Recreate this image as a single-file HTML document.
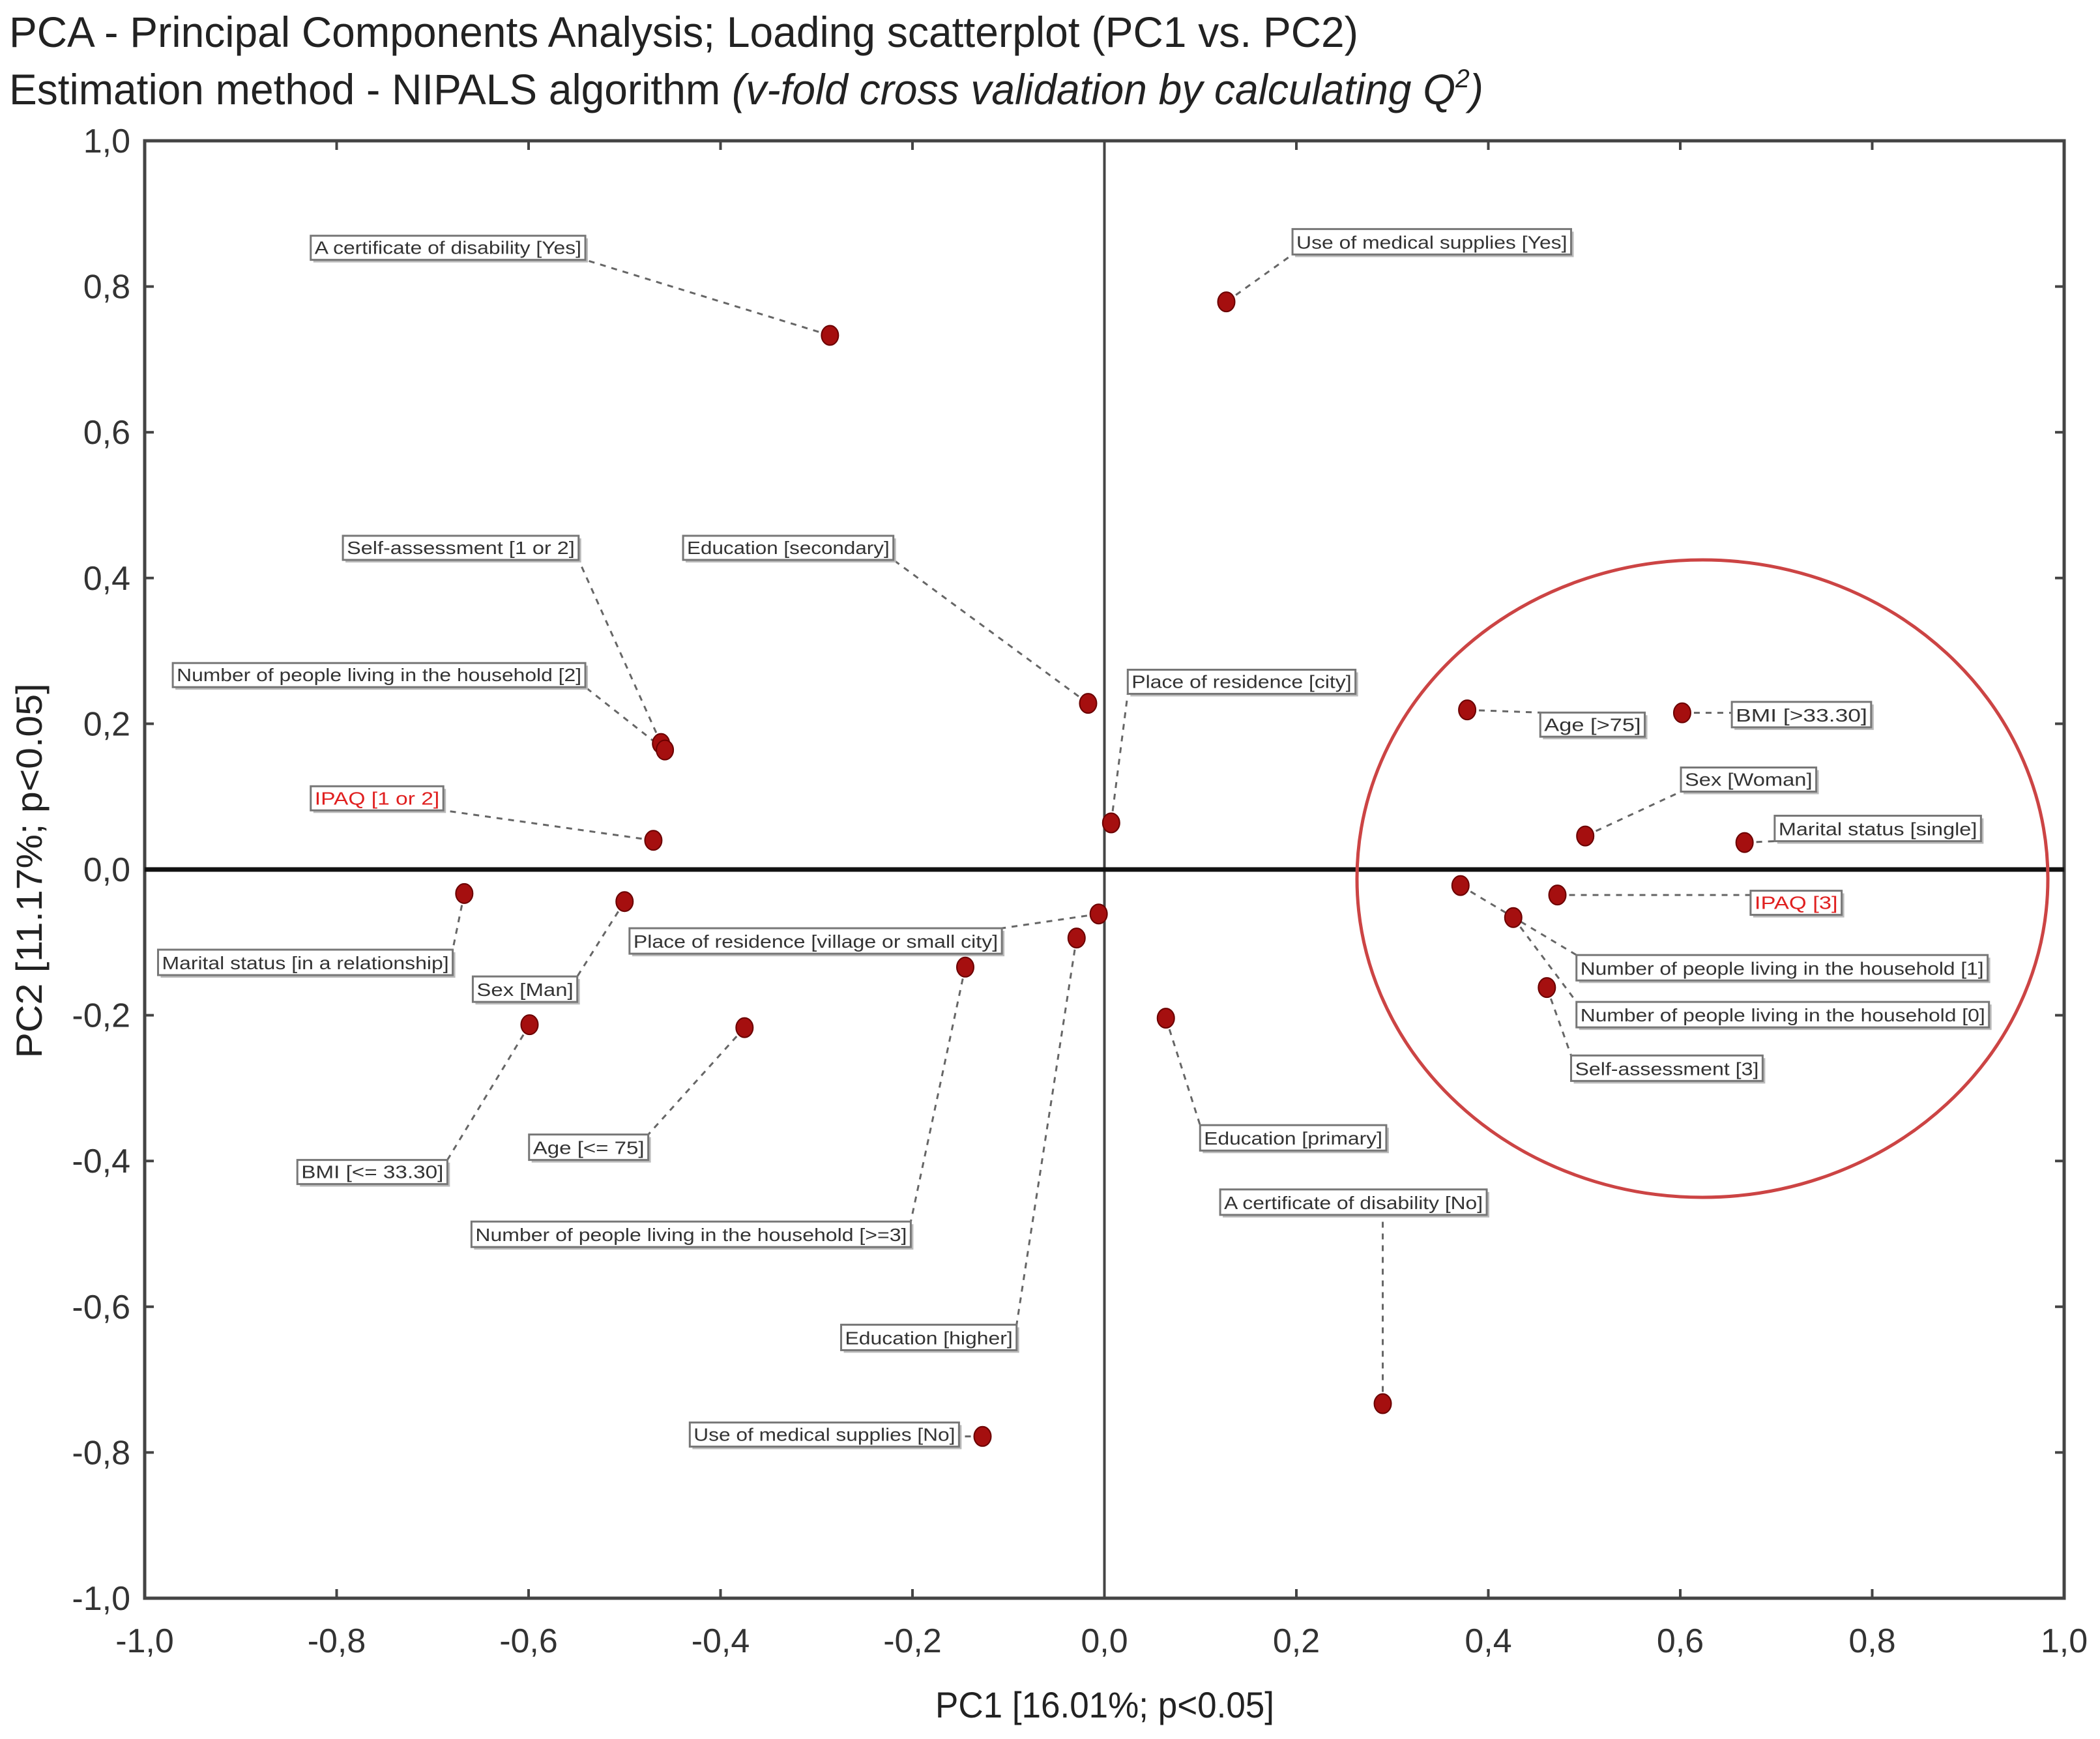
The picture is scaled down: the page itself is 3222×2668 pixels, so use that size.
<!DOCTYPE html>
<html><head><meta charset="utf-8">
<style>
html,body{margin:0;padding:0;background:#fff;}
svg{display:block;}
text{font-family:"Liberation Sans",sans-serif;}
</style></head>
<body>
<svg id="chart" width="3222" height="2668" viewBox="0 0 3222 2668" xmlns="http://www.w3.org/2000/svg">
  <rect x="0" y="0" width="3222" height="2668" fill="#fff"/>
  <text x="14" y="72" font-size="66" fill="#222" textLength="2070" lengthAdjust="spacingAndGlyphs">PCA - Principal Components Analysis; Loading scatterplot (PC1 vs. PC2)</text>
  <text x="14" y="160" font-size="66" fill="#222" textLength="2262" lengthAdjust="spacingAndGlyphs">Estimation method - NIPALS algorithm <tspan font-style="italic">(v-fold cross validation by calculating Q</tspan><tspan font-style="italic" font-size="40" dy="-26">2</tspan><tspan font-style="italic" dy="26">)</tspan></text>
  <g id="plot"></g>
  <text x="1695" y="2635" font-size="56" fill="#222" text-anchor="middle" textLength="520" lengthAdjust="spacingAndGlyphs">PC1 [16.01%; p&lt;0.05]</text>
  <text x="0" y="0" font-size="56" fill="#222" text-anchor="middle" transform="translate(64,1336) rotate(-90)" textLength="575" lengthAdjust="spacingAndGlyphs">PC2 [11.17%; p&lt;0.05]</text>
</svg>
<script>
// ---- data ----
const names = [
 "A certificate of disability [Yes]","Use of medical supplies [Yes]","Self-assessment [1 or 2]",
 "Number of people living in the household [2]","Education [secondary]","Place of residence [city]",
 "IPAQ [1 or 2]","Age [>75]","BMI [>33.30]","Sex [Woman]","Marital status [single]","IPAQ [3]",
 "Number of people living in the household [1]","Number of people living in the household [0]",
 "Self-assessment [3]","Marital status [in a relationship]","Sex [Man]","BMI [<= 33.30]","Age [<= 75]",
 "Place of residence [village or small city]","Number of people living in the household [>=3]",
 "Education [higher]","Education [primary]","A certificate of disability [No]","Use of medical supplies [No]"
];
const pc1 = [-0.286,0.127,-0.462,-0.458,-0.017,0.007,-0.470,0.378,0.602,0.501,0.667,0.472,0.371,0.426,0.461,-0.667,-0.500,-0.599,-0.375,-0.006,-0.145,-0.029,0.064,0.290,-0.127];
const pc2 = [0.733,0.779,0.173,0.164,0.228,0.064,0.040,0.219,0.215,0.046,0.037,-0.035,-0.022,-0.066,-0.162,-0.033,-0.044,-0.213,-0.217,-0.061,-0.134,-0.094,-0.204,-0.733,-0.778];
const highlighted = [6,11];
const xTicks = [-1.0,-0.8,-0.6,-0.4,-0.2,0.0,0.2,0.4,0.6,0.8,1.0];
const yTicks = [-1.0,-0.8,-0.6,-0.4,-0.2,0.0,0.2,0.4,0.6,0.8,1.0];
// ---- layout (label box positions, display-scale coords) ----
const labelBoxes = [
 [232,176,437,194],[965,171,1173,190],[256,400,432,418],[129,495,437,513],[510,400,667,418],[842,500,1012,518],
 [232,587,331,605],[1150,532,1228,550],[1293,524,1397,543],[1255,573,1356,591],[1325,609,1479,628],[1307,665,1375,683],
 [1177,713,1484,732],[1177,748,1485,767],[1173,788,1316,807],[118,709,338,728],[353,729,431,748],[222,866,334,884],
 [395,847,484,866],[470,693,748,712],[352,912,680,931],[628,989,759,1008],[896,840,1035,859],[911,888,1110,907],[515,1062,716,1080]
];
const S = 2.055;
const X0=222, X1=3167, YT=216, YB=2452;
const sx = v => X0 + (v+1)/2*(X1-X0);
const sy = v => YB - (v+1)/2*(YB-YT);
const NS="http://www.w3.org/2000/svg";
const g=document.getElementById('plot');
function mk(tag,attrs,parent){const e=document.createElementNS(NS,tag);for(const k in attrs)e.setAttribute(k,attrs[k]);(parent||g).appendChild(e);return e;}
const fmt=v=>(Math.abs(v)<1e-9?"0,0":v.toFixed(1).replace('.',','));

// frame
let fr=mk('rect',{x:X0,y:YT,width:X1-X0,height:YB-YT,fill:'none',stroke:'#444','stroke-width':5});


// ticks + labels
xTicks.forEach(v=>{
  const x=sx(v);
  let t=mk('line',{x1:x,y1:YB,x2:x,y2:YB-14,stroke:'#444','stroke-width':4});
  
  
  let t2=mk('line',{x1:x,y1:YT,x2:x,y2:YT+14,stroke:'#444','stroke-width':4});
  
  
  let l=mk('text',{x:x,y:2535,'font-size':52,fill:'#333','text-anchor':'middle'});
  
  
  l.textContent=fmt(v);
});
yTicks.forEach(v=>{
  const y=sy(v);
  let t=mk('line',{x1:X0,y1:y,x2:X0+14,y2:y,stroke:'#444','stroke-width':4});
  
  
  let t2=mk('line',{x1:X1,y1:y,x2:X1-14,y2:y,stroke:'#444','stroke-width':4});
  
  
  let l=mk('text',{x:200,y:y+18,'font-size':52,fill:'#333','text-anchor':'end'});
  
  
  l.textContent=fmt(v);
});
// zero lines
let zx=mk('line',{x1:sx(0),y1:YT,x2:sx(0),y2:YB,stroke:'#444','stroke-width':4});


let zy=mk('line',{x1:X0,y1:sy(0),x2:X1,y2:sy(0),stroke:'#111','stroke-width':7});


// highlight ellipse
let el=mk('ellipse',{cx:2612,cy:1348,rx:530,ry:489,fill:'none',stroke:'#cc4444','stroke-width':5});



// connectors, labels, points
names.forEach((n,i)=>{
  const px=sx(pc1[i]), py=sy(pc2[i]);
  const b=labelBoxes[i].map(v=>v*S);
  const cx=Math.min(Math.max(px,b[0]),b[2]), cy=Math.min(Math.max(py,b[1]),b[3]);
  let c=mk('line',{x1:px,y1:py,x2:cx,y2:cy,stroke:'#666','stroke-width':3,'stroke-dasharray':'9 9'});
  
  
  let sh=mk('rect',{x:b[0]+4,y:b[1]+4,width:b[2]-b[0],height:b[3]-b[1],fill:'#bbb'});
  
  
  let r=mk('rect',{x:b[0],y:b[1],width:b[2]-b[0],height:b[3]-b[1],fill:'#fff',stroke:'#777','stroke-width':3});
  
  
  const red=highlighted.includes(i);
  let t=mk('text',{x:b[0]+6,y:b[3]-9,'font-size':28,fill:red?'#e02020':'#333',textLength:(b[2]-b[0]-12),lengthAdjust:'spacingAndGlyphs'});
  
  
  t.textContent=n;
});
names.forEach((n,i)=>{
  let p=mk('ellipse',{cx:sx(pc1[i]),cy:sy(pc2[i]),rx:13,ry:15,fill:'#a50f0f',stroke:'#6a0000','stroke-width':2});
  
  
});
</script>
</body></html>
